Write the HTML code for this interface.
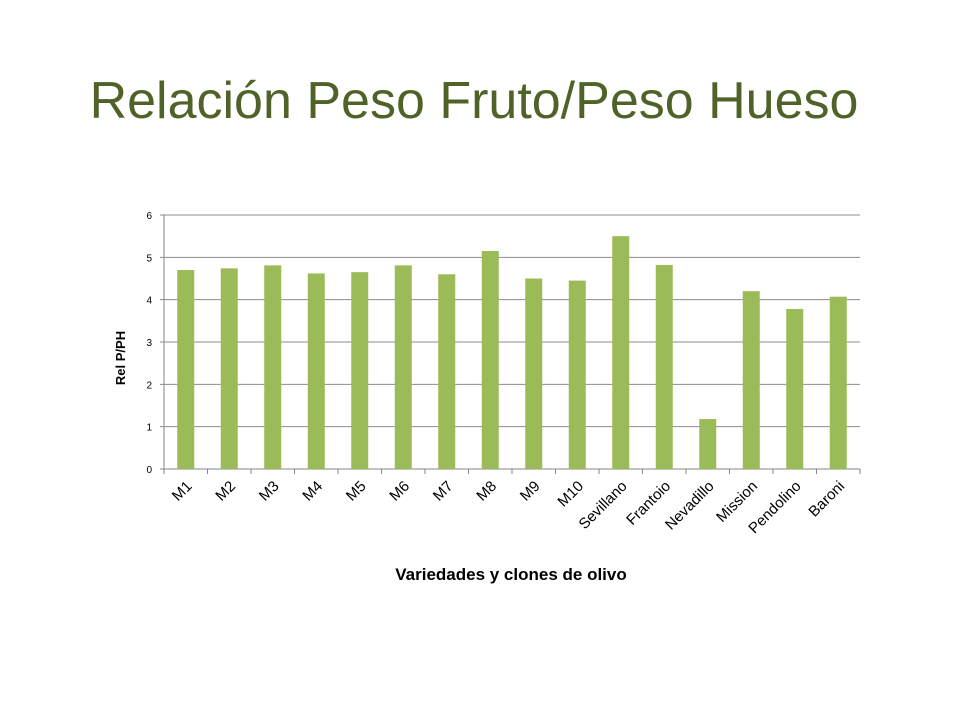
<!DOCTYPE html>
<html><head><meta charset="utf-8"><style>
body{margin:0;background:#fff;width:960px;height:720px;overflow:hidden;font-family:"Liberation Sans",sans-serif}
</style></head><body>
<svg width="960" height="720">
<text x="474" y="118" text-anchor="middle" font-size="52" fill="#4f6228" font-family="Liberation Sans, sans-serif">Relación Peso Fruto/Peso Hueso</text>
<g id="grid"></g><g id="bars"></g><g id="axes"></g>
<text transform="translate(125,358) rotate(-90)" text-anchor="middle" font-size="13" font-weight="bold" fill="#000">Rel P/PH</text>
<text x="511" y="580" text-anchor="middle" font-size="17" font-weight="bold" fill="#000">Variedades y clones de olivo</text>
</svg>
<script>
const categories=["M1","M2","M3","M4","M5","M6","M7","M8","M9","M10","Sevillano","Frantoio","Nevadillo","Mission","Pendolino","Baroni"];
const values=[4.70,4.74,4.81,4.62,4.65,4.81,4.60,5.15,4.50,4.45,5.50,4.82,1.18,4.20,3.78,4.07];
const yTicks=[0,1,2,3,4,5,6];
const X0=164,X1=860,Y0=469,Y1=215,YMAX=6;
const ns="http://www.w3.org/2000/svg";
const bw=(X1-X0)/categories.length;
const y=v=>Y0-(v/YMAX)*(Y0-Y1);
const x=i=>X0+i*bw;
function mk(t,a,p){const e=document.createElementNS(ns,t);for(const k in a)e.setAttribute(k,a[k]);p.appendChild(e);return e;}
const grid=document.getElementById('grid'),bars=document.getElementById('bars'),axes=document.getElementById('axes');
yTicks.forEach(t=>{
 const l=mk('line',{x1:X0-4,x2:X1,y1:y(t),y2:y(t),stroke:t===0?'#868686':'#8c8c8c','stroke-width':1},grid);
 
 
 const tx=mk('text',{x:X0-12,y:y(t)+4,'text-anchor':'end','font-size':10,fill:'#000'},axes);
 tx.textContent=t;
 
 
});
const ax=mk('line',{x1:X0,x2:X0,y1:Y1,y2:Y0,stroke:'#868686'},axes);


for(let i=0;i<=categories.length;i++){
 const t=mk('line',{x1:x(i),x2:x(i),y1:Y0,y2:Y0+5,stroke:'#868686'},axes);
 
 
}
categories.forEach((c,i)=>{
 const cx=x(i)+bw/2;
 const r=mk('rect',{x:cx-8.5,y:y(values[i]),width:17,height:Y0-y(values[i]),fill:'#9bbb59'},bars);
 
 
 const t=mk('text',{transform:`translate(${cx+7},${Y0+18}) rotate(-45)`,'text-anchor':'end','font-size':15,fill:'#000'},axes);
 t.textContent=c;
 
 
});
</script>
</body></html>
